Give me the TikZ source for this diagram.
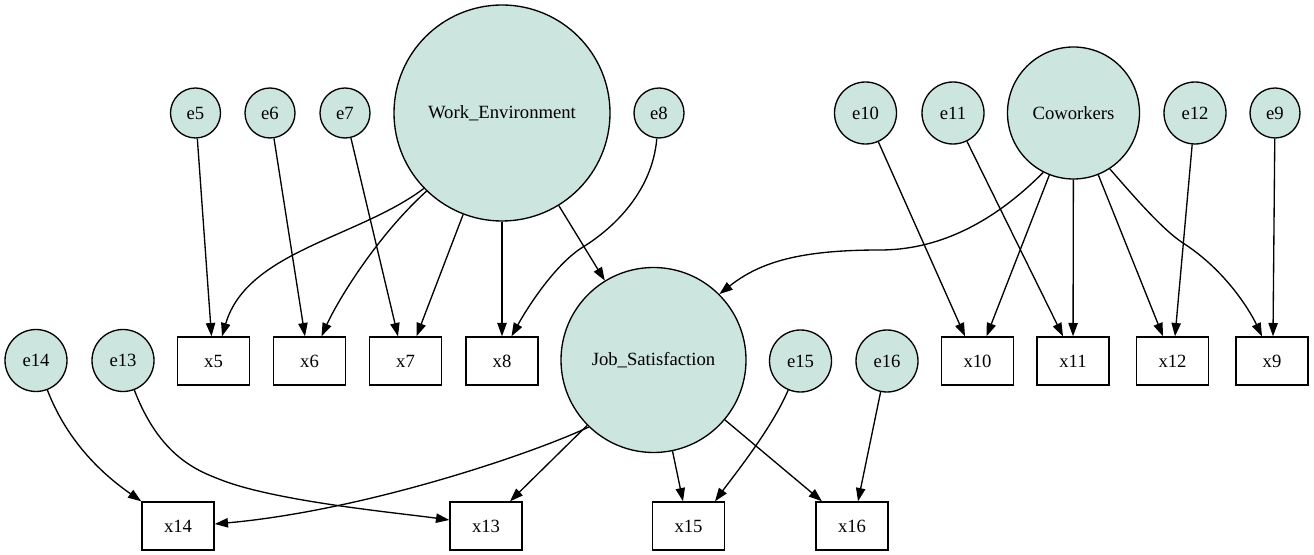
\documentclass[tikz,border=0pt]{standalone}
\usepackage{fontspec}
\setmainfont{Liberation Serif}
\usetikzlibrary{arrows.meta,calc}
\definecolor{latfill}{RGB}{204,229,222}
\begin{document}
\begin{tikzpicture}[x=0.75pt,y=-0.75pt,
  latent/.style={circle,draw,fill=latfill,line width=1pt,inner sep=0pt,font=\fontsize{14}{16}\selectfont},
  esmall/.style={latent,minimum size=37.5pt},
  ebig/.style={latent,minimum size=46.5pt},
  obs/.style={rectangle,draw,line width=1pt,minimum width=54pt,minimum height=36pt,inner sep=0pt,font=\fontsize{14}{16}\selectfont},
  edge/.style={line width=1pt,-{Triangle[length=10pt,width=7pt]}}]
\useasboundingbox (0,0) rectangle (1314,555);
% latent variables
\node[latent,minimum size=162pt] (WE) at (502,113) {Work\_Environment};
\node[latent,minimum size=99pt] (Cow) at (1073.5,113) {Coworkers};
\node[latent,minimum size=138.75pt] (JS) at (653.5,360) {Job\_Satisfaction};
% error terms
\node[esmall] (e5) at (195.5,113) {e5};
\node[esmall] (e6) at (270,113) {e6};
\node[esmall] (e7) at (345,113) {e7};
\node[esmall] (e8) at (659,113) {e8};
\node[esmall] (e9) at (1275,113) {e9};
\node[ebig] (e10) at (865.5,113) {e10};
\node[ebig] (e11) at (953,113) {e11};
\node[ebig] (e12) at (1195,113) {e12};
\node[ebig] (e14) at (36,360.5) {e14};
\node[ebig] (e13) at (123,360.5) {e13};
\node[ebig] (e15) at (800.5,361) {e15};
\node[ebig] (e16) at (887,361) {e16};
% observed
\node[obs] (x5) at (213.5,361) {x5};
\node[obs] (x6) at (309.5,361) {x6};
\node[obs] (x7) at (405.5,361) {x7};
\node[obs] (x8) at (502,361) {x8};
\node[obs] (x10) at (977.5,361) {x10};
\node[obs] (x11) at (1073,361) {x11};
\node[obs] (x12) at (1172.5,361) {x12};
\node[obs] (x9) at (1272,361) {x9};
\node[obs] (x14) at (178,526) {x14};
\node[obs] (x13) at (486,526) {x13};
\node[obs] (x15) at (688.5,526) {x15};
\node[obs] (x16) at (852,526) {x16};
% Work_Environment edges
\draw[edge] (e5) -- ($(x5.north)+(-2,0)$);
\draw[edge] (WE.224) .. controls (358,238) and (247,251) .. ($(x5.north)+(8.5,0)$);
\draw[edge] (e6) -- ($(x6.north)+(-4.5,0)$);
\draw[edge] (WE.226) .. controls (377,236) and (338,300) .. ($(x6.north)+(12,0)$);
\draw[edge] (e7) -- ($(x7.north)+(-7.5,0)$);
\draw[edge] (WE) -- ($(x7.north)+(11,0)$);
\draw[edge] (WE) -- (x8);
\draw[edge] (e8) .. controls (652,195) and (608.5,231.4) .. (583,247) .. controls (557.5,262.6) and (530.7,301.8) .. ($(x8.north)+(9.5,0)$);
\draw[edge] (WE) -- (JS);
% Coworkers edges
\draw[edge] (Cow.243) .. controls (990,226) and (935,250) .. (880,250) .. controls (800,250) and (760,262) .. (JS.45);
\draw[edge] (e10) -- ($(x10.north)+(-12.5,0)$);
\draw[edge] (Cow) -- ($(x10.north)+(9,0)$);
\draw[edge] (e11) -- ($(x11.north)+(-10,0)$);
\draw[edge] (Cow) -- (x11);
\draw[edge] (Cow) -- ($(x12.north)+(-9.5,0)$);
\draw[edge] (e12) -- ($(x12.north)+(2.5,0)$);
\draw[edge] (Cow.-57) .. controls (1130,192) and (1162,229.5) .. (1183,243) .. controls (1225,270) and (1249.4,309.7) .. ($(x9.north)+(-10,0)$);
\draw[edge] (e9) -- ($(x9.north)+(1,0)$);
% Job_Satisfaction edges
\draw[edge] (e14) .. controls (69.3,447) and (109.4,479) .. (x14.north west);
\draw[edge] (e13) .. controls (160,457) and (198,471) .. (221.4,480) .. controls (277,501.6) and (399,513) .. ($(x13.west)+(0,-6)$);
\draw[edge] (JS.226) .. controls (534,453) and (365.6,510.5) .. ($(x14.east)+(0,-2)$);
\draw[edge] (JS) -- ($(x13.north)+(24,0)$);
\draw[edge] (JS) -- ($(x15.north)+(-5.5,0)$);
\draw[edge] (e15) .. controls (771.8,428.7) and (732.4,477.4) .. ($(x15.north)+(26.5,0)$);
\draw[edge] (JS) -- ($(x16.north)+(-30,0)$);
\draw[edge] (e16) -- ($(x16.north)+(6,0)$);
\end{tikzpicture}
\end{document}
